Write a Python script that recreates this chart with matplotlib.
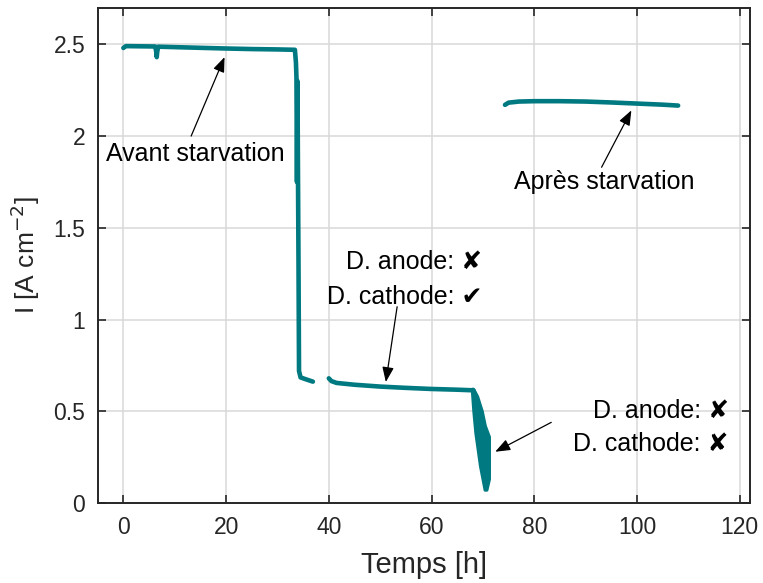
import numpy as np
import matplotlib.pyplot as plt

# Temps [h] / courant [A cm-2]
t_avant = [0.0, 0.5, 6.2, 6.4, 6.5, 6.6, 6.8, 12, 20, 25, 30, 33.4,
           33.6, 33.7, 33.8, 33.9, 34.0, 34.1, 34.2, 34.5, 35.5, 36.9]
i_avant = [2.48, 2.49, 2.488, 2.46, 2.43, 2.46, 2.487, 2.483, 2.477, 2.474, 2.472, 2.47,
           2.40, 2.32, 1.75, 2.30, 1.78, 1.30, 0.72, 0.685, 0.675, 0.662]

t_milieu = [40.0, 40.5, 41.5, 45, 50, 55, 60, 65, 67.8, 68.1]
i_milieu = [0.68, 0.665, 0.655, 0.645, 0.635, 0.628, 0.622, 0.618, 0.615, 0.617]

# chute bruitee : bord gauche et bord droit de la bande
t_chute_g = [67.9, 68.2, 68.6, 69.5, 70.4]
i_chute_g = [0.617, 0.50, 0.38, 0.20, 0.07]
t_chute_d = [70.8, 71.3, 71.3, 70.5, 69.9, 69.0, 68.3]
i_chute_d = [0.07, 0.13, 0.36, 0.42, 0.50, 0.58, 0.617]

t_apres = [74.3, 75, 77, 80, 85, 90, 95, 100, 105, 108.0]
i_apres = [2.17, 2.182, 2.188, 2.19, 2.19, 2.188, 2.183, 2.177, 2.171, 2.166]

couleur = '#007a80'
plt.rcParams['font.family'] = ['Liberation Sans', 'DejaVu Sans']

fig = plt.figure(figsize=(7.63, 5.83), dpi=100)
ax = fig.add_axes([0.128, 0.137, 0.855, 0.850])

for t, i in [(t_avant, i_avant), (t_milieu, i_milieu), (t_apres, i_apres)]:
    ax.plot(t, i, color=couleur, lw=3.3, solid_joinstyle='round', solid_capstyle='round')
ax.fill(t_chute_g + t_chute_d, i_chute_g + i_chute_d, color=couleur, lw=2,
        joinstyle='round')

ax.set_xlim(-5, 122)
ax.set_ylim(0, 2.7)
ax.set_xticks(np.arange(0, 121, 20))
ax.set_yticks([0, 0.5, 1, 1.5, 2, 2.5])
ax.set_yticklabels(['0', '0.5', '1', '1.5', '2', '2.5'])
ax.grid(True, color='#d9d9d9', lw=1.1)
ax.set_axisbelow(True)
ax.tick_params(direction='in', length=6, width=1.2, labelsize=16.5, colors='#262626',
               top=True, right=True, pad=9)
for s in ax.spines.values():
    s.set_linewidth(1.4)
    s.set_color('#262626')

ax.set_xlabel('Temps [h]', fontsize=21, color='#262626', labelpad=9)
ax.set_ylabel('I [A cm$^{-2}$]', fontsize=19, color='#262626', labelpad=8)

fleche = dict(arrowstyle='-|>,head_length=0.9,head_width=0.35', color='black', lw=0.9,
              shrinkA=0, shrinkB=0)
ftxt = dict(fontsize=18, color='black')
fam = ['Liberation Sans', 'DejaVu Sans']

ax.text(14, 1.9, 'Avant starvation', ha='center', va='center', **ftxt)
ax.annotate('', xy=(19.7, 2.43), xytext=(13.2, 2.0), arrowprops=fleche)

ax.text(93.7, 1.75, 'Après starvation', ha='center', va='center', **ftxt)
ax.annotate('', xy=(98.9, 2.14), xytext=(93.1, 1.83), arrowprops=fleche)

ax.text(69.9, 1.315, 'D. anode: \u2718', ha='right', va='center', family=fam, **ftxt)
ax.text(69.9, 1.125, 'D. cathode: \u2714', ha='right', va='center', family=fam, **ftxt)
ax.annotate('', xy=(51.1, 0.66), xytext=(53.3, 1.07), arrowprops=fleche)

ax.text(117.9, 0.50, 'D. anode: \u2718', ha='right', va='center', family=fam, **ftxt)
ax.text(117.9, 0.32, 'D. cathode: \u2718', ha='right', va='center', family=fam, **ftxt)
ax.annotate('', xy=(72.4, 0.28), xytext=(83.3, 0.44), arrowprops=fleche)

fig.savefig('out.png', dpi=100)
